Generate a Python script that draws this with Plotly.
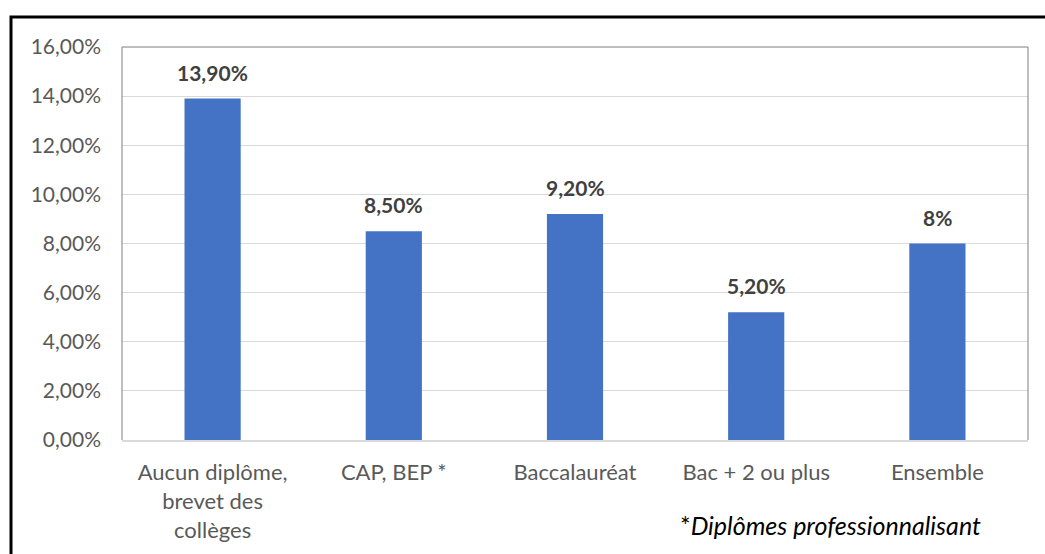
import plotly.graph_objects as go

categories = ["Aucun diplôme,<br>brevet des<br>collèges", "CAP, BEP *", "Baccalauréat", "Bac + 2 ou plus", "Ensemble"]
values = [13.9, 8.5, 9.2, 5.2, 8.0]
value_labels = ["13,90%", "8,50%", "9,20%", "5,20%", "8%"]
tick_vals = [0, 2, 4, 6, 8, 10, 12, 14, 16]
tick_text = ["0,00%", "2,00%", "4,00%", "6,00%", "8,00%", "10,00%", "12,00%", "14,00%", "16,00%"]
footnote = "*<i>Diplômes professionnalisant</i>"

FONT = "Lato"

fig = go.Figure()
fig.add_trace(go.Bar(
    x=categories, y=values,
    marker=dict(color="#4472C4", line=dict(width=0)),
    width=0.31,
    hoverinfo="skip",
))

annotations = []
for c, v, t in zip(categories, values, value_labels):
    annotations.append(dict(
        x=c, y=v, xref="x", yref="y", text="<b>%s</b>" % t, showarrow=False,
        yanchor="bottom", yshift=12, font=dict(family=FONT, size=21, color="#404040"),
    ))
annotations.append(dict(
    x=(983 - 122) / 906, y=(440 - 525) / 393, xref="paper", yref="paper",
    text=footnote, showarrow=False, xanchor="right", yanchor="middle",
    font=dict(family=FONT, size=25, color="#000000"),
))

shapes = [
    dict(type="rect", xref="paper", yref="paper",
         x0=(11 - 122) / 906, x1=(1060 - 122) / 906,
         y0=(440 - 570) / 393, y1=(440 - 17) / 393,
         line=dict(color="#000000", width=3), fillcolor="rgba(0,0,0,0)", layer="above"),
    dict(type="path", xref="paper", yref="paper",
         path="M 0 0 L 0 1 L 1 1 L 1 0",
         line=dict(color="#7f7f7f", width=1), layer="above"),
]

fig.update_layout(
    width=1045, height=554,
    margin=dict(l=122, r=17, t=47, b=114),
    paper_bgcolor="white", plot_bgcolor="white",
    showlegend=False,
    bargap=0.69,
    font=dict(family=FONT, color="#595959", size=21),
    xaxis=dict(
        showline=True, linecolor="#d9d9d9", linewidth=2,
        ticks="", ticklabelstandoff=12,
        tickfont=dict(family=FONT, size=22, color="#595959"),
        fixedrange=True,
    ),
    yaxis=dict(
        range=[0, 16], tickvals=tick_vals, ticktext=tick_text,
        showgrid=True, gridcolor="#d9d9d9", gridwidth=1,
        zeroline=False, ticks="", ticklabelstandoff=20,
        tickfont=dict(family=FONT, size=21, color="#595959"),
        fixedrange=True,
    ),
    annotations=annotations,
    shapes=shapes,
)

fig.write_html("out.html", config={"displayModeBar": False},
               post_script="document.body.style.margin='0';document.body.style.overflow='hidden';")
